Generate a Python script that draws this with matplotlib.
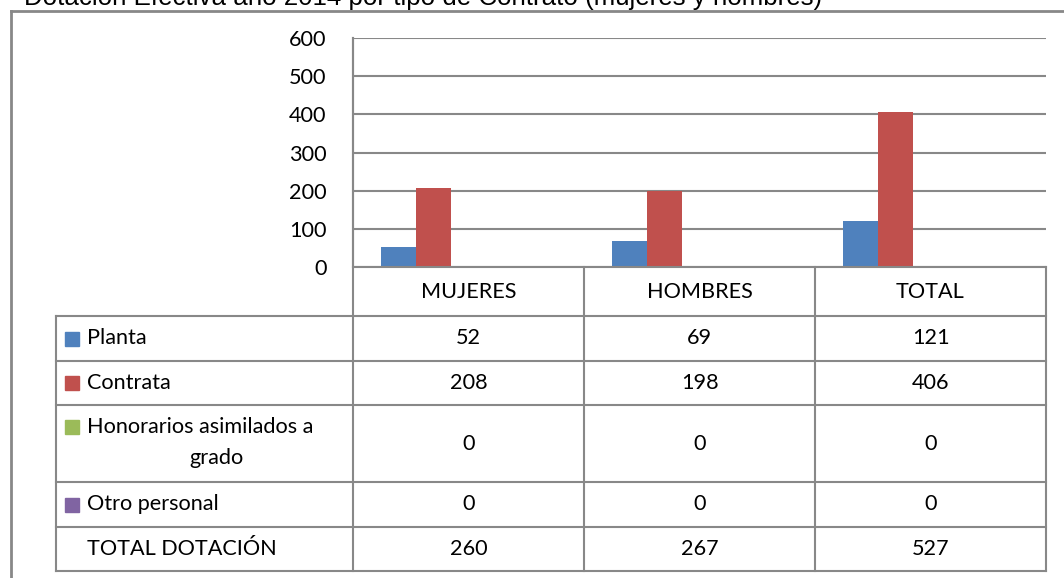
import matplotlib.pyplot as plt
from matplotlib.patches import Rectangle
from matplotlib.lines import Line2D

# data
categories = ["MUJERES", "HOMBRES", "TOTAL"]
series_names = ["Planta", "Contrata", "Honorarios asimilados a\ngrado", "Otro personal", "TOTAL DOTACIÓN"]
planta = [52, 69, 121]
contrata = [208, 198, 406]
honorarios = [0, 0, 0]
otro = [0, 0, 0]
total_dotacion = [260, 267, 527]
series_values = [planta, contrata, honorarios, otro, total_dotacion]
series_colors = ["#4F81BD", "#C0504D", "#9BBB59", "#8064A2", None]
y_ticks = [0, 100, 200, 300, 400, 500, 600]
title = "Dotación Efectiva año 2014 por tipo de Contrato (mujeres y hombres)"

W, H = 1064, 578
grid_color = "#888888"
font = "Lato"
fs = 15.6

fig = plt.figure(figsize=(W / 100, H / 100), dpi=100)


def fx(px):
    return px / W


def fy(py):
    return 1 - py / H


# title, cut off by the top edge as in the original
fig.text(fx(24), fy(5), title, fontsize=18.6, family="Liberation Sans",
         ha="left", va="baseline", color="black")

# outer frame (runs off the right and bottom edges)
fig.add_artist(Line2D([fx(11), fx(11)], [fy(11), fy(H + 5)], color=grid_color, lw=2))
fig.add_artist(Line2D([fx(11), fx(W + 5)], [fy(11), fy(11)], color=grid_color, lw=2))

# plot area
left, right, top, zero = 353, 1046, 38, 267
ax = fig.add_axes([fx(left), fy(zero), fx(right - left), (zero - top) / H])
ax.set_xlim(-0.5, len(categories) - 0.5)
ax.set_ylim(0, 600)
ax.set_yticks(y_ticks)
ax.set_yticklabels([str(v) for v in y_ticks], fontsize=fs, family=font)
ax.tick_params(axis="y", length=0, pad=19)
ax.set_xticks([])
ax.grid(axis="y", color=grid_color, lw=1.5)
ax.set_axisbelow(True)
for s in ["top", "right", "bottom"]:
    ax.spines[s].set_visible(False)
ax.spines["left"].set_color(grid_color)
ax.spines["left"].set_linewidth(1.5)

n = len(series_names)
bw = 35 / ((right - left) / len(categories))
for i, (vals, col) in enumerate(zip(series_values, series_colors)):
    if col is None:
        continue  # total row has no bar in the chart
    xs = [c + (i - (n - 1) / 2) * bw for c in range(len(categories))]
    ax.bar(xs, vals, width=bw, color=col, zorder=3)

# data table under the chart
tab = fig.add_axes([0, 0, 1, 1])
tab.set_xlim(0, W)
tab.set_ylim(H, 0)
tab.axis("off")
tab.patch.set_alpha(0)

tleft = 56
col_edges = [left + k * (right - left) / len(categories) for k in range(len(categories) + 1)]
row_edges = [zero, 316, 361, 405, 482, 527, 571]
lw = 1.5
for x in col_edges:
    tab.plot([x, x], [top if x == left else zero, row_edges[-1]], color=grid_color, lw=lw)
for y in row_edges:
    tab.plot([tleft if y != zero else left, right], [y, y], color=grid_color, lw=lw)
tab.plot([tleft, tleft], [row_edges[1], row_edges[-1]], color=grid_color, lw=lw)

for k, cat in enumerate(categories):
    xc = (col_edges[k] + col_edges[k + 1]) / 2
    tab.text(xc, (row_edges[0] + row_edges[1]) / 2 + 1, cat, ha="center", va="center",
             fontsize=fs, family=font)

for i, (name, vals, col) in enumerate(zip(series_names, series_values, series_colors)):
    y0, y1 = row_edges[i + 1], row_edges[i + 2]
    yc = (y0 + y1) / 2
    if "\n" in name:
        first, second = name.split("\n")
        yl = y0 + 22
        tab.add_patch(Rectangle((65, yl - 7), 14, 14, color=col))
        tab.text(87, yl, first, ha="left", va="center", fontsize=fs, family=font)
        tab.text((tleft + left) / 2 + 12, yl + 31, second, ha="center", va="center",
                 fontsize=fs, family=font)
    else:
        if col is not None:
            tab.add_patch(Rectangle((65, yc - 7), 14, 14, color=col))
        tab.text(87, yc, name, ha="left", va="center", fontsize=fs, family=font)
    for k, v in enumerate(vals):
        xc = (col_edges[k] + col_edges[k + 1]) / 2
        tab.text(xc, yc, str(v), ha="center", va="center", fontsize=fs, family=font)

fig.savefig("out.png", dpi=100)
